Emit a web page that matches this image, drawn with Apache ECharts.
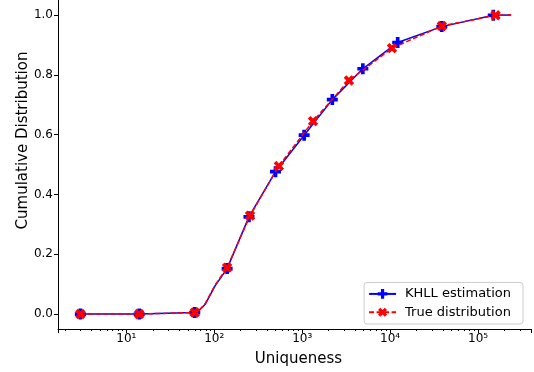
<!DOCTYPE html>
<html>
<head>
<meta charset="utf-8">
<script src="https://cdn.jsdelivr.net/npm/echarts@6/dist/echarts.min.js"></script>
<style>
  html, body { margin: 0; padding: 0; background: #fff; }
  #chart { width: 534px; height: 372px; }
</style>
</head>
<body>
<div id="chart"></div>
<script>
// uniqueness values and cumulative share
const khllX = [3, 14, 60, 65, 79, 102, 140, 248, 497, 1052, 2200, 4894, 12190, 38700, 149000, 238000];
const khllY = [0, 0, 0.005, 0.008, 0.033, 0.094, 0.152, 0.325, 0.476, 0.598, 0.717, 0.82, 0.908, 0.961, 0.999, 1.0];
const khllMark = [1, 1, 1, 0, 0, 0, 1, 1, 1, 1, 1, 1, 1, 1, 1, 0];

const trueX = [3, 14, 60, 65, 79, 102, 140, 255, 543, 1327, 3397, 10490, 38700, 158000, 238000];
const trueY = [0, 0, 0.005, 0.008, 0.035, 0.097, 0.155, 0.329, 0.495, 0.645, 0.781, 0.889, 0.963, 0.999, 1.0];
const trueMark = [1, 1, 1, 0, 0, 0, 1, 1, 1, 1, 1, 1, 1, 1, 0];

const majorTicks = [10, 100, 1000, 10000, 100000];
const tickLabels = ['10¹', '10²', '10³', '10⁴', '10⁵'];

// 2..9 x 10^n minor ticks
const minorTicks = [];
for (let d = 1; d <= 100000; d *= 10) {
  for (let k = 2; k <= 9; k++) {
    if (k * d < 400000) minorTicks.push(k * d);
  }
}

const FONT = 'DejaVu Sans';
const plusPath = 'path://M4,0H8V4H12V8H8V12H4V8H0V4H4Z';

function points(xs, ys, marks) {
  return xs.map((x, i) => {
    const item = { value: [x, ys[i]] };
    if (!marks[i]) item.symbol = 'none';
    return item;
  });
}

const chart = echarts.init(document.getElementById('chart'));

const option = {
  animation: false,
  backgroundColor: '#fff',
  textStyle: { fontFamily: FONT, color: '#000' },
  grid: { left: 58, right: 0, top: 0, bottom: 42, containLabel: false },
  legend: {
    orient: 'vertical',
    right: 11,
    bottom: 48,
    data: ['KHLL estimation', 'True distribution'],
    itemWidth: 27,
    itemHeight: 12,
    itemGap: 5,
    padding: [5, 12, 5, 4],
    borderColor: '#cccccc',
    borderWidth: 1,
    borderRadius: 3,
    backgroundColor: 'rgba(255,255,255,0.8)',
    textStyle: { fontFamily: FONT, fontSize: 13, color: '#000', padding: [0, 0, 0, 4] }
  },
  xAxis: [
    {
      type: 'log',
      logBase: 10,
      min: 1.67,
      max: 400000,
      name: 'Uniqueness',
      nameLocation: 'middle',
      nameGap: 23,
      nameMoveOverlap: false,
      nameTextStyle: { fontFamily: FONT, fontSize: 15, color: '#000', padding: [0, 0, 0, 8] },
      axisLine: { show: true, onZero: false, lineStyle: { color: '#000', width: 1 } },
      axisTick: { show: true, length: 4, lineStyle: { color: '#000' } },
      axisLabel: {
        margin: 4,
        fontFamily: FONT,
        fontSize: 12,
        color: '#000',
        formatter: function (v) {
          const i = majorTicks.indexOf(Math.round(v));
          return i >= 0 ? tickLabels[i] : '';
        }
      },
      splitLine: { show: false }
    },
    {
      type: 'log',
      logBase: 10,
      min: 1.67,
      max: 400000,
      position: 'bottom',
      axisLine: { show: false, onZero: false },
      axisLabel: { show: false },
      axisTick: { show: true, length: 2, customValues: minorTicks, lineStyle: { color: '#000' } },
      splitLine: { show: false }
    }
  ],
  yAxis: {
    type: 'value',
    min: -0.05,
    max: 1.05,
    splitNumber: 5,
    name: 'Cumulative Distribution',
    nameLocation: 'middle',
    nameGap: 27,
    nameMoveOverlap: false,
    nameTextStyle: { fontFamily: FONT, fontSize: 15, color: '#000', padding: [0, 0, 0, 48] },
    axisLine: { show: true, lineStyle: { color: '#000', width: 1 } },
    axisTick: { show: true, length: 4, lineStyle: { color: '#000' } },
    axisLabel: {
      margin: 5,
      fontFamily: FONT,
      fontSize: 12,
      color: '#000',
      showMinLabel: false,
      showMaxLabel: false,
      formatter: v => v.toFixed(1)
    },
    splitLine: { show: false }
  },
  series: [
    {
      name: 'KHLL estimation',
      type: 'line',
      data: points(khllX, khllY, khllMark),
      symbol: plusPath,
      symbolSize: 11,
      showAllSymbol: true,
      itemStyle: { color: '#0000ff' },
      lineStyle: { color: '#0000ff', width: 1.5 },
      z: 2
    },
    {
      name: 'True distribution',
      type: 'line',
      data: points(trueX, trueY, trueMark),
      symbol: plusPath,
      symbolRotate: 45,
      symbolSize: 11,
      showAllSymbol: true,
      itemStyle: { color: '#ff0000' },
      lineStyle: { color: '#ff0000', width: 1.5, type: [5, 2.5] },
      z: 3
    }
  ]
};

chart.setOption(option);
</script>
</body>
</html>
